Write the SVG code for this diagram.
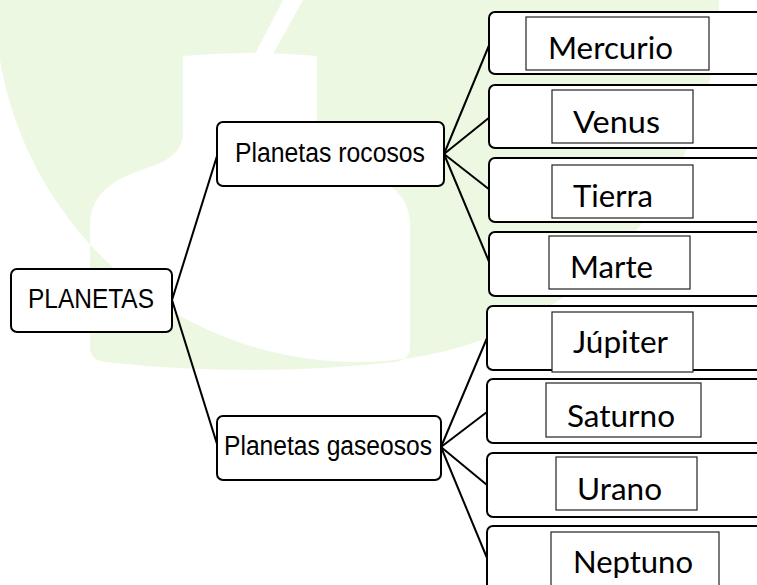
<svg xmlns="http://www.w3.org/2000/svg" width="757" height="585" viewBox="0 0 757 585">
<style>
.box{fill:#fff;stroke:#000;stroke-width:2}
.inner{fill:#fff;stroke:#222;stroke-width:1.2}
.lt{font-family:"Liberation Sans",Arial,sans-serif;font-size:27px;fill:#000}
.rt{font-family:Lato,"Liberation Sans",sans-serif;font-size:31px;fill:#000}
.conn line{stroke:#000;stroke-width:2}
</style>
<rect width="757" height="585" fill="#fff"/>
<g id="watermark">
<path fill="#edf8e3" fill-rule="evenodd" d="M-5,0 A362,362 0 0 0 719,0 Z M183,56 Q250,50 317,56 L317,133 C317,150 330,160 350,167 C380,177 410,190 410,225 L410,347 Q410,360 395,362 Q250,378 105,362 Q90,360 90,347 L90,225 C90,190 120,177 150,167 C170,160 183,150 183,133 Z"/>
<polygon fill="#fff" points="283,0 303,0 273,54 255,54"/>
</g>
<g class="conn" id="connectors">
<line x1="172" y1="300" x2="217" y2="156"/>
<line x1="172" y1="300" x2="217" y2="444"/>
<line x1="444" y1="154" x2="490" y2="43"/>
<line x1="444" y1="154" x2="490" y2="117"/>
<line x1="444" y1="154" x2="490" y2="190"/>
<line x1="444" y1="154" x2="490" y2="264"/>
<line x1="441" y1="447" x2="487" y2="338"/>
<line x1="441" y1="447" x2="487" y2="412"/>
<line x1="441" y1="447" x2="487" y2="485"/>
<line x1="441" y1="447" x2="487" y2="558"/>
</g>
<g id="planetas">
<rect class="box" x="11" y="269" width="161" height="63" rx="6"/>
<text class="lt" x="28" y="308" textLength="126" lengthAdjust="spacingAndGlyphs">PLANETAS</text>
</g>
<g id="rocosos">
<rect class="box" x="217" y="122" width="227" height="64" rx="6"/>
<text class="lt" x="235" y="162" textLength="190" lengthAdjust="spacingAndGlyphs">Planetas rocosos</text>
</g>
<g id="gaseosos">
<rect class="box" x="217" y="416" width="224" height="64" rx="6"/>
<text class="lt" x="224" y="455" textLength="208" lengthAdjust="spacingAndGlyphs">Planetas gaseosos</text>
</g>
<g id="mercurio">
<rect class="box" x="489" y="12" width="280" height="62" rx="6"/>
<rect class="inner" x="526" y="17" width="183" height="53"/>
<text class="rt" x="548" y="59" textLength="125" lengthAdjust="spacingAndGlyphs">Mercurio</text>
</g>
<g id="venus">
<rect class="box" x="489" y="85" width="280" height="63" rx="6"/>
<rect class="inner" x="552" y="90" width="141" height="53"/>
<text class="rt" x="573" y="133" textLength="87" lengthAdjust="spacingAndGlyphs">Venus</text>
</g>
<g id="tierra">
<rect class="box" x="489" y="158" width="280" height="64" rx="6"/>
<rect class="inner" x="552" y="165" width="141" height="53"/>
<text class="rt" x="573" y="207" textLength="80" lengthAdjust="spacingAndGlyphs">Tierra</text>
</g>
<g id="marte">
<rect class="box" x="489" y="232" width="280" height="64" rx="6"/>
<rect class="inner" x="549" y="236" width="141" height="53"/>
<text class="rt" x="570" y="278" textLength="83" lengthAdjust="spacingAndGlyphs">Marte</text>
</g>
<g id="jupiter">
<rect class="box" x="487" y="306" width="282" height="64" rx="6"/>
<rect class="inner" x="552" y="312" width="141" height="60"/>
<text class="rt" x="573" y="353" textLength="95" lengthAdjust="spacingAndGlyphs">Júpiter</text>
</g>
<g id="saturno">
<rect class="box" x="487" y="379" width="282" height="64" rx="6"/>
<rect class="inner" x="546" y="383" width="155" height="54"/>
<text class="rt" x="567" y="427" textLength="108" lengthAdjust="spacingAndGlyphs">Saturno</text>
</g>
<g id="urano">
<rect class="box" x="487" y="453" width="282" height="64" rx="6"/>
<rect class="inner" x="556" y="457" width="141" height="53"/>
<text class="rt" x="577" y="500" textLength="85" lengthAdjust="spacingAndGlyphs">Urano</text>
</g>
<g id="neptuno">
<rect class="box" x="487" y="526" width="282" height="70" rx="6"/>
<rect class="inner" x="551" y="532" width="168" height="60"/>
<text class="rt" x="573" y="573" textLength="120" lengthAdjust="spacingAndGlyphs">Neptuno</text>
</g>
</svg>
